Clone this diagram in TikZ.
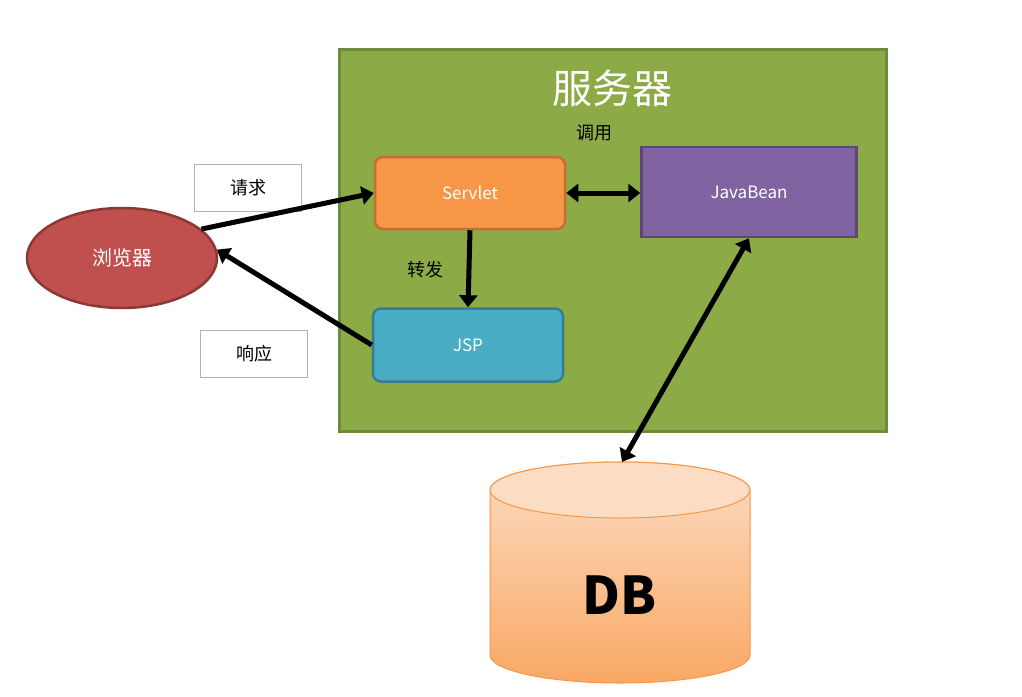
\documentclass[tikz,border=0pt]{standalone}
\usepackage{fontspec}
\setmainfont{Noto Sans CJK SC}
\usetikzlibrary{arrows.meta,shapes.geometric}
\definecolor{srv}{HTML}{8CAB46}\definecolor{srvb}{HTML}{6E8B3D}
\definecolor{org}{HTML}{F79646}\definecolor{orgb}{HTML}{C0712F}
\definecolor{pur}{HTML}{8064A2}\definecolor{purb}{HTML}{5C4776}
\definecolor{blu}{HTML}{4BACC6}\definecolor{blub}{HTML}{357D91}
\definecolor{red}{HTML}{C0504D}\definecolor{redb}{HTML}{8C3836}
\definecolor{dbt}{HTML}{FCDCC2}\definecolor{dbb}{HTML}{F9A865}
\begin{document}
\begin{tikzpicture}[x=1pt,y=-1pt,
 box/.style={draw=#1,line width=2.5pt,text=white,font=\fontsize{17}{17}\selectfont,rounded corners=8pt},
 lbl/.style={draw=gray!60,fill=white,font=\fontsize{18}{18}\selectfont,minimum width=107pt,minimum height=47pt},
 arr/.style={line width=5pt,-{Triangle[length=12pt,width=18pt]}},
 darr/.style={line width=5pt,{Triangle[length=12pt,width=18pt]}-{Triangle[length=12pt,width=18pt]}}]
\useasboundingbox (0,0) rectangle (1022,696);
\fill[white] (0,0) rectangle (1022,696);
\node[draw=srvb,fill=srv,line width=2.5pt,minimum width=547pt,minimum height=382pt,anchor=north west] (srv) at (338,48) {};
\node[text=white,font=\fontsize{40}{40}\selectfont] (title) at (612,88) {服务器};
\node[font=\fontsize{18}{18}\selectfont] (call) at (594,133) {调用};
\node[box=orgb,fill=org,minimum width=190pt,minimum height=72pt] (servlet) at (470,193) {Servlet};
\node[box=purb,fill=pur,rounded corners=0pt,minimum width=215pt,minimum height=90pt] (bean) at (749,192) {JavaBean};
\node[box=blub,fill=blu,minimum width=190pt,minimum height=73pt] (jsp) at (468,345) {JSP};
\node[ellipse,draw=redb,fill=red,line width=2.5pt,text=white,minimum width=190pt,minimum height=100pt,font=\fontsize{20}{20}\selectfont] (br) at (122,258) {浏览器};
\node[lbl] (req) at (248,188) {请求};
\node[lbl] (resp) at (254,354) {响应};
\node[font=\fontsize{18}{18}\selectfont] (fw) at (425,270) {转发};
\shade[top color=dbt,bottom color=dbb,draw=org,line width=1pt] (490,490) -- (490,655) arc[start angle=180,end angle=0,x radius=130,y radius=28] -- (750,490) arc[start angle=0,end angle=-180,x radius=130,y radius=28];
\draw[org,line width=1pt,fill=dbt] (620,490) ellipse[x radius=130,y radius=28];
\node[font=\fontsize{52}{52}\selectfont\bfseries] (db) at (620,595) {DB};
\coordinate (dbtop) at (622,462);
\draw[arr] (br.20) -- (servlet.west);
\draw[arr] (jsp.west) -- (br.5);
\draw[darr] (servlet.east) -- (bean.west|-servlet.east);
\draw[arr] (servlet.south) -- (jsp.north);
\draw[darr] (bean.south) -- (dbtop);
\end{tikzpicture}
\end{document}
